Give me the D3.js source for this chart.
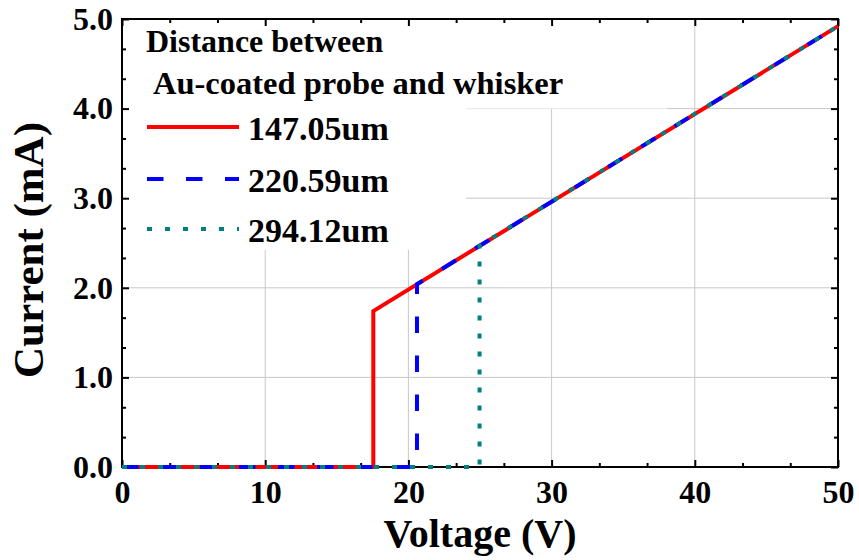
<!DOCTYPE html>
<html>
<head>
<meta charset="utf-8">
<script src="https://cdn.jsdelivr.net/npm/d3@7/dist/d3.min.js"></script>
</head>
<body style="margin:0;background:#fff">
<svg id="chart" width="859" height="560"></svg>
<script>
// ---- data ----
const xTicks = [0, 10, 20, 30, 40, 50];
const yTicks = [0, 1, 2, 3, 4, 5];
const seriesNames = ["147.05um", "220.59um", "294.12um"];
const seriesColors = ["#ff0000", "#0000ff", "#008080"];
const voltage147 = [0, 17.55, 17.55, 50];
const current147 = [0, 0, 1.74, 4.92];
const voltage220 = [0, 20.6, 20.6, 50];
const current220 = [0, 0, 2.04, 4.92];
const voltage294 = [0, 24.97, 24.97, 50];
const current294 = [0, 0, 2.47, 4.92];
const legendTitle = ["Distance between", "Au-coated probe and whisker"];

const series = [
  { name: seriesNames[0], color: seriesColors[0], v: voltage147, i: current147, dash: null },
  { name: seriesNames[1], color: seriesColors[1], v: voltage220, i: current220, dash: "16.5,22.5" },
  { name: seriesNames[2], color: seriesColors[2], v: voltage294, i: current294, dash: "5,13" }
];

const FONT = "Liberation Serif";
const svg = d3.select("#chart").attr("font-family", FONT).attr("font-weight", "bold");
const L = 122, R = 838, T = 19, B = 467;
const x = d3.scaleLinear().domain([0, 50]).range([L, R]);
const y = d3.scaleLinear().domain([0, 5]).range([B, T]);

// grid
const grid = svg.append("g");
xTicks.slice(1, -1).forEach(t => {
  grid.append("line").attr("x1", x(t)).attr("x2", x(t)).attr("y1", T).attr("y2", B)
    .attr("stroke", "#c8c8c8").attr("stroke-width", 1);
});
yTicks.slice(1, -1).forEach(t => {
  grid.append("line").attr("x1", L).attr("x2", R).attr("y1", y(t)).attr("y2", y(t))
    .attr("stroke", "#c8c8c8").attr("stroke-width", 1);
});

// legend background (white boxes hiding grid)
svg.append("rect").attr("x", L + 1).attr("y", T + 1).attr("width", 667 - L - 1).attr("height", y(4) - T - 1).attr("fill", "#fff");
svg.append("rect").attr("x", L + 1).attr("y", y(4) - 1).attr("width", 466 - L - 1).attr("height", 250 - y(4) + 1).attr("fill", "#fff");

// axes with inward ticks
const xMinor = d3.range(0, 51, 10).flatMap(v => [v + 10 / 3, v + 20 / 3]).filter(v => v < 50);
const yMinor = d3.range(0, 5, 1).flatMap(v => [v + 1 / 3, v + 2 / 3]);

function axisGroup(axis, transform) {
  const g = svg.append("g").attr("transform", transform).call(axis);
  g.attr("font-family", FONT).attr("font-weight", "bold");
  g.select(".domain").remove();
  g.selectAll("line").attr("stroke", "#000").attr("stroke-width", 2);
  return g;
}
const fmt1 = d3.format(".1f");
const gxb = axisGroup(d3.axisBottom(x).tickValues(xTicks).tickSize(-7).tickPadding(13).tickFormat(d3.format("d")), `translate(0,${B})`);
gxb.attr("font-size", 32);
gxb.selectAll("text").attr("fill", "#000").attr("dy", "0.71em");
axisGroup(d3.axisBottom(x).tickValues(xMinor).tickSize(-4).tickFormat(""), `translate(0,${B})`);
axisGroup(d3.axisTop(x).tickValues(xTicks).tickSize(-7).tickFormat(""), `translate(0,${T})`);
axisGroup(d3.axisTop(x).tickValues(xMinor).tickSize(-4).tickFormat(""), `translate(0,${T})`);
const gyl = axisGroup(d3.axisLeft(y).tickValues(yTicks).tickSize(-7).tickPadding(9).tickFormat(fmt1), `translate(${L},0)`);
gyl.attr("font-size", 32);
gyl.selectAll("text").attr("fill", "#000").attr("dy", "0.32em");
axisGroup(d3.axisLeft(y).tickValues(yMinor).tickSize(-4).tickFormat(""), `translate(${L},0)`);
axisGroup(d3.axisRight(y).tickValues(yTicks).tickSize(-7).tickFormat(""), `translate(${R},0)`);
axisGroup(d3.axisRight(y).tickValues(yMinor).tickSize(-4).tickFormat(""), `translate(${R},0)`);

// frame
svg.append("rect").attr("x", L).attr("y", T).attr("width", R - L).attr("height", B - T)
  .attr("fill", "none").attr("stroke", "#000").attr("stroke-width", 2);

// series lines
const line = d3.line().x(d => x(d[0])).y(d => y(d[1]));
series.forEach(s => {
  const pts = s.v.map((v, k) => [v, s.i[k]]);
  const p = svg.append("path").datum(pts).attr("d", line)
    .attr("fill", "none").attr("stroke", s.color).attr("stroke-width", 4)
    .attr("stroke-linejoin", "miter");
  if (s.dash) p.attr("stroke-dasharray", s.dash);
});

// legend
svg.append("text").attr("x", 146).attr("y", 52).attr("font-size", 32).text(legendTitle[0]);
svg.append("text").attr("x", 153).attr("y", 94).attr("font-size", 32.5).text(legendTitle[1]);
const legY = [127, 179, 229];
series.forEach((s, k) => {
  const l = svg.append("line").attr("x1", 147).attr("x2", 239).attr("y1", legY[k]).attr("y2", legY[k])
    .attr("stroke", s.color).attr("stroke-width", 4);
  if (s.dash) l.attr("stroke-dasharray", s.dash);
  svg.append("text").attr("x", 248).attr("y", legY[k] + 13).attr("font-size", 34).text(s.name);
});

// axis titles
svg.append("text").attr("x", (L + R) / 2).attr("y", 547).attr("text-anchor", "middle")
  .attr("font-size", 40).text("Voltage (V)");
svg.append("text").attr("transform", `translate(43,250) rotate(-90)`).attr("text-anchor", "middle")
  .attr("font-size", 43).text("Current (mA)");
</script>
</body>
</html>
